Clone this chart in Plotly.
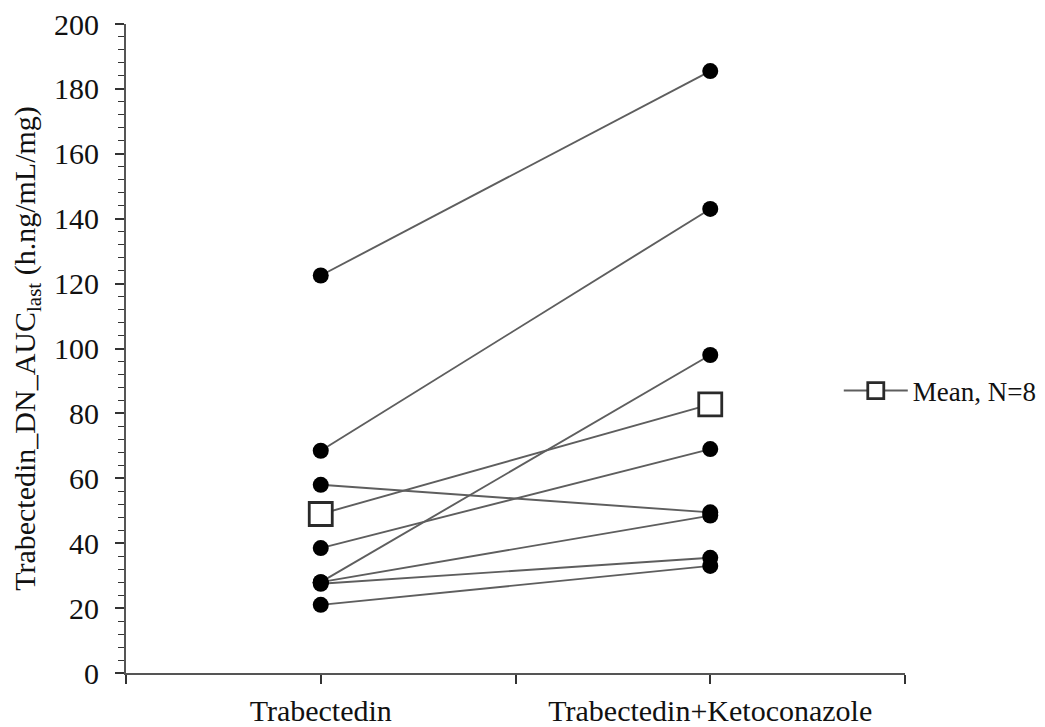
import plotly.graph_objects as go

# Data
categories = ["Trabectedin", "Trabectedin+Ketoconazole"]
trabectedin = [122.5, 68.5, 58.0, 38.5, 28.0, 28.0, 27.5, 21.0]
trabectedin_keto = [185.5, 143.0, 49.5, 69.0, 98.0, 48.5, 35.5, 33.0]
mean_values = [49.0, 82.8]
mean_label = "Mean, N=8"
y_ticks = [0, 20, 40, 60, 80, 100, 120, 140, 160, 180, 200]

FONT = "Liberation Serif, Times New Roman, serif"
xpos = list(range(len(categories)))

line_x, line_y = [], []
for a, b in zip(trabectedin, trabectedin_keto):
    line_x += [xpos[0], xpos[1], None]
    line_y += [a, b, None]

fig = go.Figure()
fig.add_trace(go.Scatter(
    x=line_x, y=line_y, mode="lines",
    line=dict(color="#5e5e5e", width=1.9),
    showlegend=False, hoverinfo="skip"))
fig.add_trace(go.Scatter(
    x=[xpos[0]] * len(trabectedin) + [xpos[1]] * len(trabectedin_keto),
    y=trabectedin + trabectedin_keto, mode="markers",
    marker=dict(symbol="circle", size=16, color="black"),
    showlegend=False))
fig.add_trace(go.Scatter(
    x=xpos, y=mean_values, mode="lines+markers", name=mean_label,
    line=dict(color="#5e5e5e", width=1.9),
    marker=dict(symbol="square", size=23, color="white",
                line=dict(color="#2a2a2a", width=2.8)),
    showlegend=True))

fig.update_layout(
    width=1045, height=727,
    margin=dict(l=126, r=140, t=24, b=54, autoexpand=False),
    paper_bgcolor="white", plot_bgcolor="white",
    font=dict(family=FONT, size=30, color="#111111"),
    legend=dict(x=0.915, y=0.4345, xanchor="left", yanchor="middle",
                font=dict(family=FONT, size=27, color="#111111"),
                itemwidth=64, bgcolor="rgba(0,0,0,0)", itemsizing="trace"),
)
fig.update_xaxes(
    range=[-0.5, 1.5],
    tickvals=xpos,
    ticktext=categories,
    automargin=False,
    showgrid=False, zeroline=False,
    showline=True, linecolor="#555555", linewidth=2,
    ticks="outside", ticklen=9, tickwidth=1.5, tickcolor="#333333",
    minor=dict(tick0=-0.5, dtick=0.5, ticks="outside", ticklen=9, tickwidth=1.5,
               tickcolor="#333333", showgrid=False),
    ticklabelstandoff=1,
    tickfont=dict(family=FONT, size=30),
)
fig.update_yaxes(
    range=[0, 200],
    tickvals=y_ticks,
    automargin=False,
    showgrid=False, zeroline=False,
    showline=True, linecolor="#555555", linewidth=2,
    ticks="outside", ticklen=9, tickwidth=1.5, tickcolor="#333333",
    minor=dict(dtick=4, ticks="outside", ticklen=6, tickwidth=1.2, tickcolor="#333333", showgrid=False),
    ticklabelstandoff=10,
    tickfont=dict(family=FONT, size=30),
    title=dict(text="Trabectedin_DN_AUC<sub>last</sub> (h.ng/mL/mg)",
               font=dict(family=FONT, size=30), standoff=10),
)

fig.write_html("out.html")
